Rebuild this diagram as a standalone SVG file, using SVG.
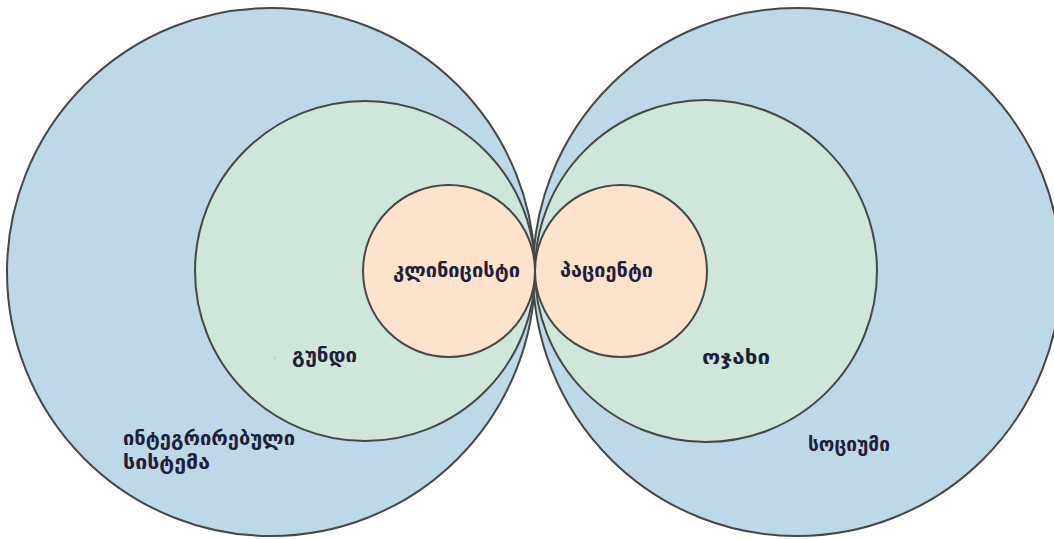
<svg xmlns="http://www.w3.org/2000/svg" width="1054" height="539" viewBox="0 0 1054 539">
  <style>
    .ring { stroke: #474747; stroke-width: 2; }
    .outer { fill: #bdd9e7; }
    .middle { fill: #cfe7da; }
    .inner { fill: #fde3cc; }
    .label { font-family: "DejaVu Sans", sans-serif; font-size: 19px; font-weight: bold; fill: #1f1f3a; }
  </style>
  <rect width="1054" height="539" fill="#ffffff"/>

  <!-- outer rings -->
  <g id="integrated-system">
    <circle class="ring outer" cx="271" cy="272" r="264"/>
    <text class="label" x="123" y="445" textLength="172" lengthAdjust="spacingAndGlyphs">ინტეგრირებული</text>
    <text class="label" x="123" y="469" textLength="87" lengthAdjust="spacingAndGlyphs">სისტემა</text>
  </g>
  <g id="society">
    <circle class="ring outer" cx="797" cy="272" r="264"/>
    <text class="label" x="808" y="451" textLength="82" lengthAdjust="spacingAndGlyphs">სოციუმი</text>
  </g>

  <!-- middle rings -->
  <g id="team">
    <circle class="ring middle" cx="365" cy="271" r="170"/>
    <circle cx="275" cy="358" r="1.5" fill="#e8c9a8"/>
    <text class="label" x="292" y="362" textLength="65" lengthAdjust="spacingAndGlyphs">გუნდი</text>
  </g>
  <g id="family">
    <circle class="ring middle" cx="706" cy="271" r="171"/>
    <text class="label" x="702" y="364" textLength="68" lengthAdjust="spacingAndGlyphs">ოჯახი</text>
  </g>

  <!-- inner rings -->
  <g id="clinician">
    <circle class="ring inner" cx="449" cy="271" r="86"/>
    <text class="label" x="393" y="277" textLength="127" lengthAdjust="spacingAndGlyphs">კლინიცისტი</text>
  </g>
  <g id="patient">
    <circle class="ring inner" cx="621" cy="271" r="86"/>
    <text class="label" x="560" y="277" textLength="93" lengthAdjust="spacingAndGlyphs">პაციენტი</text>
  </g>
  <g id="connectors"/>
</svg>
